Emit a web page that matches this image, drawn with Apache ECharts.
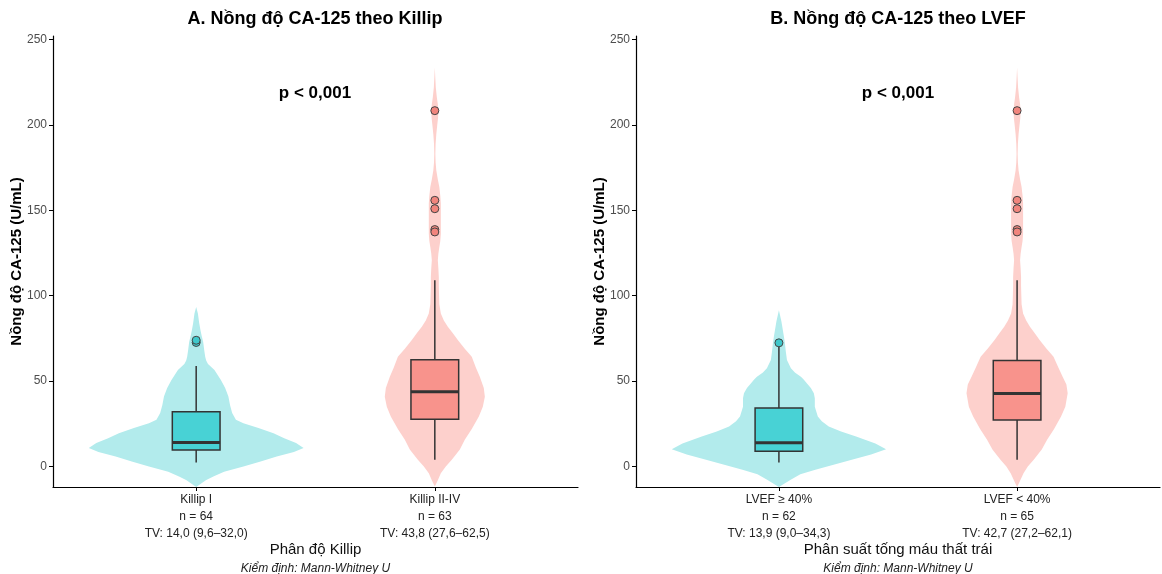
<!DOCTYPE html>
<html>
<head>
<meta charset="utf-8">
<script src="https://cdn.jsdelivr.net/npm/echarts@6/dist/echarts.min.js"></script>
<style>html,body{margin:0;padding:0;background:#fff}#c{width:1162px;height:574px}</style>
</head>
<body>
<div id="c"></div>
<script>
// ---------- data ----------
const panelTitles = ['A. Nồng độ CA-125 theo Killip', 'B. Nồng độ CA-125 theo LVEF'];
const pValues = ['p < 0,001', 'p < 0,001'];
const xAxisTitles = ['Phân độ Killip', 'Phân suất tống máu thất trái'];
const testNote = 'Kiểm định: Mann-Whitney U';
const yAxisTitle = 'Nồng độ CA-125 (U/mL)';
const yTicks = [0, 50, 100, 150, 200, 250];

const catsA = ['Killip I', 'Killip II-IV'];
const nA = [64, 63];
const tvA = ['TV: 14,0 (9,6–32,0)', 'TV: 43,8 (27,6–62,5)'];
const catsB = ['LVEF ≥ 40%', 'LVEF < 40%'];
const nB = [62, 65];
const tvB = ['TV: 13,9 (9,0–34,3)', 'TV: 42,7 (27,2–62,1)'];

// box stats: [whiskerLow, Q1, median, Q3, whiskerHigh]
const boxA1 = [2.3, 9.6, 14.0, 32.0, 58.8];
const boxA2 = [3.9, 27.6, 43.8, 62.5, 109.0];
const boxB1 = [2.4, 9.0, 13.9, 34.3, 70.2];
const boxB2 = [3.9, 27.2, 42.7, 62.1, 109.0];

// outliers
const outA1 = [72.6, 73.9];
const outA2 = [208.3, 155.8, 150.9, 138.7, 137.3];
const outB1 = [72.4];
const outB2 = [208.3, 155.8, 150.9, 138.7, 137.3];

// violin density profiles: [value, relative density]
const violinA1 = [[-12,0],[-8,0.09],[-5.8,0.16],[-3,0.26],[0,0.44],[3,0.6],[5.8,0.75],[8.5,0.91],[10.8,1.0],[13.7,0.93],[16.5,0.82],[19.5,0.72],[22.5,0.58],[25.3,0.44],[27.3,0.37],[31.3,0.335],[36,0.315],[41,0.3],[46,0.27],[50.6,0.23],[53.5,0.2],[56.5,0.17],[60,0.11],[62,0.093],[64.3,0.084],[68,0.075],[73,0.065],[76.5,0.051],[79.8,0.04],[84,0.028],[89.6,0.016],[93.4,0]];
const violinA2 = [[-11.7,0],[-8,0.028],[-3.9,0.056],[0,0.102],[3.9,0.158],[10,0.233],[15.6,0.279],[22,0.344],[29.2,0.41],[35,0.447],[40.9,0.466],[46,0.456],[52.6,0.419],[58,0.382],[64.3,0.344],[69,0.279],[74,0.214],[78,0.168],[81.8,0.121],[85.5,0.084],[89.6,0.056],[95,0.042],[101.3,0.039],[106,0.037],[111,0.037],[116,0.033],[120.7,0.028],[124.5,0.033],[128.5,0.042],[132,0.051],[136.3,0.056],[140,0.056],[144,0.056],[149,0.056],[153.9,0.056],[158.5,0.051],[163.6,0.042],[168,0.028],[173.3,0.014],[178,0.0075],[183,0.005],[189,0.0075],[194.7,0.014],[200,0.023],[204,0.03],[208,0.033],[212,0.028],[216,0.019],[222,0.009],[228,0.004],[233.6,0]];
const violinB1 = [[-12,0],[-7.8,0.11],[-4.5,0.2],[-1.9,0.34],[1,0.51],[3.9,0.68],[7,0.86],[10.1,1.0],[13.5,0.9],[17.5,0.72],[20.5,0.58],[23.4,0.465],[26.5,0.4],[29.2,0.363],[35,0.335],[40,0.335],[42.9,0.326],[46,0.298],[48.7,0.26],[50.8,0.233],[52.6,0.205],[55,0.149],[57.5,0.112],[62.3,0.075],[67,0.065],[72,0.056],[76,0.047],[79.8,0.037],[85,0.023],[91.5,0]];
const violinB2 = [[-12,0],[-8,0.03],[-4,0.06],[0,0.1],[4,0.155],[10,0.23],[15.6,0.28],[22,0.345],[29.2,0.41],[35,0.45],[42.9,0.472],[48,0.46],[52.6,0.425],[58,0.385],[64.3,0.34],[69,0.275],[74,0.21],[78,0.165],[81.8,0.12],[85.5,0.085],[89.6,0.056],[95,0.042],[101.3,0.039],[106,0.037],[111,0.037],[116,0.033],[120.7,0.028],[124.5,0.033],[128.5,0.042],[132,0.051],[136.3,0.056],[140,0.056],[144,0.056],[149,0.056],[153.9,0.056],[158.5,0.051],[163.6,0.042],[168,0.028],[173.3,0.014],[178,0.0075],[183,0.005],[189,0.0075],[194.7,0.014],[200,0.023],[204,0.03],[208,0.033],[212,0.028],[216,0.019],[222,0.009],[228,0.004],[233.6,0]];

// ---------- styles ----------
const FONT = '"Liberation Sans", Arial, Helvetica, sans-serif';
const TEAL_V = '#B2EBEC', TEAL_B = '#48D2D5', TEAL_O = '#3FC8CB';
const PINK_V = '#FDD0CC', PINK_B = '#F8938C', PINK_O = '#F1857D';
const VIOLIN_HALF = 0.45; // half of ggplot violin width 0.9
const BOX_HALF = 0.1;

const grids = [
  {left: 53, right: 584, top: 36, bottom: 87, outerBoundsMode: 'none', containLabel: false},
  {left: 636, right: 2, top: 36, bottom: 87, outerBoundsMode: 'none', containLabel: false}
];

function xAxisFor(gi, cats, ns, tvs) {
  return {
    type: 'value', gridIndex: gi, min: 0.4, max: 2.6,
    axisLine: {show: true, onZero: false, lineStyle: {color: '#000', width: 1.2}},
    axisTick: {show: true, length: 4, customValues: [1, 2], lineStyle: {color: '#000', width: 1}},
    axisLabel: {
      show: true, customValues: [1, 2], margin: 4,
      fontFamily: FONT, fontSize: 12, color: '#222', lineHeight: 17,
      formatter: v => { const i = Math.round(v) - 1; return cats[i] + '\nn = ' + ns[i] + '\n' + tvs[i]; }
    },
    splitLine: {show: false},
    name: '{t|' + xAxisTitles[gi] + '}\n{s|' + testNote + '}',
    nameLocation: 'middle', nameGap: 53, nameMoveOverlap: false,
    nameTextStyle: {
      rich: {
        t: {fontFamily: FONT, fontSize: 15, color: '#111', lineHeight: 19},
        s: {fontFamily: FONT, fontSize: 12, fontStyle: 'italic', color: '#222', lineHeight: 20}
      }
    }
  };
}
function yAxisFor(gi) {
  return {
    type: 'value', gridIndex: gi, min: -12, max: 252,
    axisLine: {show: true, onZero: false, lineStyle: {color: '#000', width: 1.2}},
    axisTick: {show: true, length: 4, customValues: yTicks, lineStyle: {color: '#000'}},
    axisLabel: {show: true, customValues: yTicks, margin: 6, fontFamily: FONT, fontSize: 12, color: '#4D4D4D'},
    splitLine: {show: false},
    name: yAxisTitle, nameLocation: 'middle', nameGap: 29, nameMoveOverlap: false,
    nameTextStyle: {fontFamily: FONT, fontSize: 15, fontWeight: 'bold', color: '#000'}
  };
}

function violinSeries(gi, xPos, profile, color) {
  return {
    type: 'custom', xAxisIndex: gi, yAxisIndex: gi, silent: true, z: 1,
    data: [[xPos, 0]],
    renderItem: (params, api) => {
      const x = api.value(0);
      const right = profile.map(p => api.coord([x + p[1] * VIOLIN_HALF, p[0]]));
      const left = profile.slice().reverse().map(p => api.coord([x - p[1] * VIOLIN_HALF, p[0]]));
      return {type: 'polygon', shape: {points: right.concat(left)}, style: {fill: color, stroke: null}};
    }
  };
}
function boxSeries(gi, xPos, stats, color) {
  return {
    type: 'custom', xAxisIndex: gi, yAxisIndex: gi, silent: true, z: 3,
    data: [[xPos].concat(stats)],
    renderItem: (params, api) => {
      const x = api.value(0);
      const lo = api.value(1), q1 = api.value(2), md = api.value(3), q3 = api.value(4), hi = api.value(5);
      const pLo = api.coord([x, lo]), pQ1 = api.coord([x, q1]), pQ3 = api.coord([x, q3]), pHi = api.coord([x, hi]);
      const tl = api.coord([x - BOX_HALF, q3]), br = api.coord([x + BOX_HALF, q1]);
      const ml = api.coord([x - BOX_HALF, md]), mr = api.coord([x + BOX_HALF, md]);
      const ls = {stroke: '#333', lineWidth: 1.5};
      return {type: 'group', children: [
        {type: 'line', shape: {x1: pLo[0], y1: pLo[1], x2: pQ1[0], y2: pQ1[1]}, style: ls},
        {type: 'line', shape: {x1: pQ3[0], y1: pQ3[1], x2: pHi[0], y2: pHi[1]}, style: ls},
        {type: 'rect', shape: {x: tl[0], y: tl[1], width: br[0] - tl[0], height: br[1] - tl[1]}, style: {fill: color, stroke: '#333', lineWidth: 1.5}},
        {type: 'line', shape: {x1: ml[0], y1: ml[1], x2: mr[0], y2: mr[1]}, style: {stroke: '#333', lineWidth: 3}}
      ]};
    }
  };
}
function outlierSeries(gi, xPos, vals, color) {
  return {
    type: 'scatter', xAxisIndex: gi, yAxisIndex: gi, silent: true, z: 4,
    symbol: 'circle', symbolSize: 8,
    itemStyle: {color: color, borderColor: '#444', borderWidth: 1, opacity: 1},
    data: vals.map(v => [xPos, v])
  };
}

const chart = echarts.init(document.getElementById('c'), null, {renderer: 'canvas'});
chart.setOption({
  animation: false,
  backgroundColor: '#fff',
  grid: grids,
  xAxis: [xAxisFor(0, catsA, nA, tvA), xAxisFor(1, catsB, nB, tvB)],
  yAxis: [yAxisFor(0), yAxisFor(1)],
  graphic: [
    {type: 'text', x: 315, y: 19, style: {text: panelTitles[0], font: 'bold 18px ' + FONT, fill: '#000', textAlign: 'center', textVerticalAlign: 'middle'}},
    {type: 'text', x: 898, y: 19, style: {text: panelTitles[1], font: 'bold 18px ' + FONT, fill: '#000', textAlign: 'center', textVerticalAlign: 'middle'}},
    {type: 'text', x: 315, y: 93, style: {text: pValues[0], font: 'bold 17px ' + FONT, fill: '#000', textAlign: 'center', textVerticalAlign: 'middle'}},
    {type: 'text', x: 898, y: 93, style: {text: pValues[1], font: 'bold 17px ' + FONT, fill: '#000', textAlign: 'center', textVerticalAlign: 'middle'}}
  ],
  series: [
    violinSeries(0, 1, violinA1, TEAL_V),
    violinSeries(0, 2, violinA2, PINK_V),
    boxSeries(0, 1, boxA1, TEAL_B),
    boxSeries(0, 2, boxA2, PINK_B),
    outlierSeries(0, 1, outA1, TEAL_O),
    outlierSeries(0, 2, outA2, PINK_O),
    violinSeries(1, 1, violinB1, TEAL_V),
    violinSeries(1, 2, violinB2, PINK_V),
    boxSeries(1, 1, boxB1, TEAL_B),
    boxSeries(1, 2, boxB2, PINK_B),
    outlierSeries(1, 1, outB1, TEAL_O),
    outlierSeries(1, 2, outB2, PINK_O)
  ]
});
</script>
</body>
</html>
